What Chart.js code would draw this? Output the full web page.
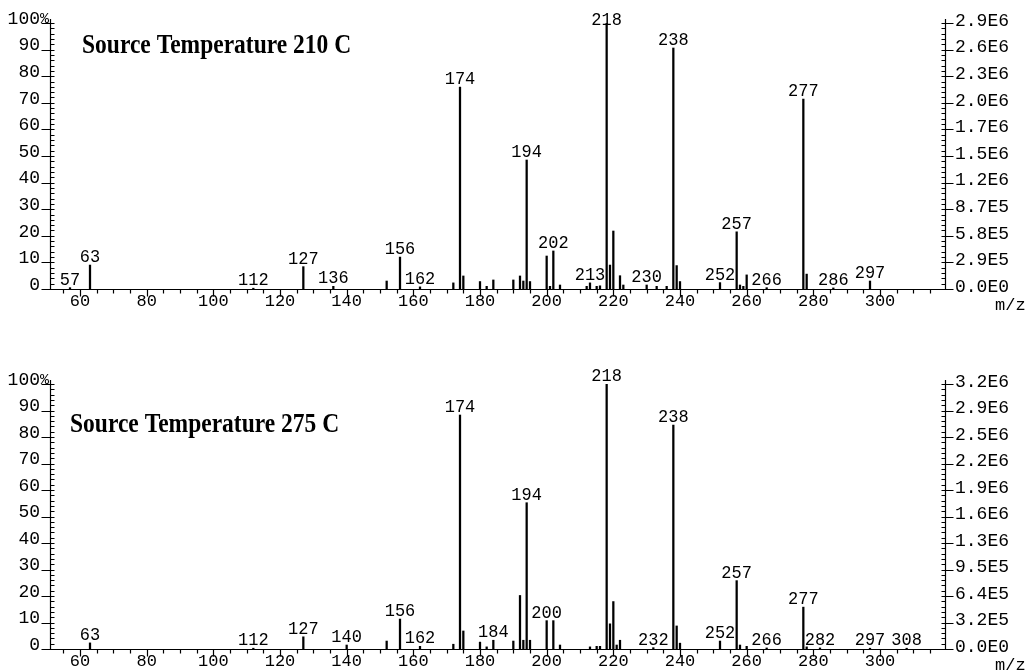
<!DOCTYPE html>
<html>
<head>
<meta charset="utf-8">
<script src="https://cdn.jsdelivr.net/npm/chart.js@4.4.1/dist/chart.umd.min.js"></script>
<style>
  html, body { margin: 0; padding: 0; background: #fff; }
  .box { position: absolute; left: 0; width: 1029px; height: 336px; }
  #topBox { top: 0; }
  #botBox { top: 336px; }
</style>
</head>
<body>
<div class="box" id="topBox"><canvas id="topChart"></canvas></div>
<div class="box" id="botBox"><canvas id="botChart"></canvas></div>
<script>

// 210 C spectrum (relative intensity, %)
const topMz  = [57, 63, 112, 127, 136, 152, 156, 162, 172, 174, 175, 180, 182, 184, 190, 192, 193, 194, 195,
                200, 201, 202, 204, 212, 213, 215, 216, 218, 219, 220, 222, 223, 230, 233, 236, 238, 239, 240,
                252, 257, 258, 259, 260, 266, 277, 278, 286, 297]
const topPct = [0.5, 9.0, 0.3, 8.4, 1.0, 3.0, 12.0, 0.8, 2.3, 75.9, 4.9, 2.8, 1.0, 3.4, 3.4, 4.9, 3.0, 48.5, 2.8,
                12.4, 1.0, 14.3, 1.5, 1.0, 2.3, 1.0, 1.2, 100, 9.0, 21.8, 5.0, 1.5, 1.5, 1.0, 1.0, 90.6, 8.8, 2.8,
                2.4, 21.5, 1.5, 1.0, 5.3, 0.5, 71.4, 5.6, 0.4, 3.0]
const topPeakLabels = [57, 63, 112, 127, 136, 156, 162, 174, 194, 202, 213, 218, 230, 238, 252, 257, 266, 277, 286, 297]
const topRightTicks = ['0.0E0', '2.9E5', '5.8E5', '8.7E5', '1.2E6', '1.5E6', '1.7E6', '2.0E6', '2.3E6', '2.6E6', '2.9E6']

// 275 C spectrum
const botMz  = [63, 112, 127, 140, 152, 156, 162, 172, 174, 175, 180, 182, 184, 190, 192, 193, 194, 195,
                200, 202, 204, 213, 215, 216, 218, 219, 220, 221, 222, 232, 238, 239, 240,
                252, 257, 258, 260, 266, 277, 278, 282, 297, 308]
const botPct = [2.3, 0.3, 4.6, 1.5, 3.0, 11.3, 1.0, 1.8, 88.3, 6.8, 2.6, 0.8, 3.3, 3.0, 20.2, 3.3, 55.2, 3.3,
                10.7, 10.7, 1.5, 0.8, 1.0, 1.0, 100, 9.5, 17.9, 1.5, 3.3, 0.5, 84.5, 8.7, 2.2,
                3.0, 25.8, 1.5, 1.0, 0.4, 15.8, 0.8, 0.4, 0.3, 0.3]
const botPeakLabels = [63, 112, 127, 140, 156, 162, 174, 184, 194, 200, 218, 232, 238, 252, 257, 266, 277, 282, 297, 308]
const botRightTicks = ['0.0E0', '3.2E5', '6.4E5', '9.5E5', '1.3E6', '1.6E6', '1.9E6', '2.2E6', '2.5E6', '2.9E6', '3.2E6']

const pctTicks = ['0', '10', '20', '30', '40', '50', '60', '70', '80', '90', '100']
const mzTicks = [60, 80, 100, 120, 140, 160, 180, 200, 220, 240, 260, 280, 300]

const mono = 'Liberation Mono'

// text a bit taller than the font, like the scanned original
function tallText(ctx, txt, x, y, sy) {
  ctx.save()
  ctx.translate(x, y)
  ctx.scale(1, sy)
  ctx.fillText(txt, 0, 0)
  ctx.restore()
}

const specPlugin = {
  id: 'spec',
  afterDraw(chart) {
    const { ctx, chartArea: a, scales: { x, y } } = chart
    const o = chart.options.plugins.spec
    ctx.save()
    ctx.strokeStyle = '#000'
    ctx.lineWidth = 1.2
    ctx.beginPath()
    const L = Math.round(a.left) + 0.5, R = Math.round(a.right) + 0.5, B = Math.round(a.bottom) + 0.5
    ctx.moveTo(L, a.top - 4); ctx.lineTo(L, B)
    ctx.moveTo(R, a.top - 4); ctx.lineTo(R, B)
    ctx.moveTo(L, B); ctx.lineTo(R, B)
    for (let p = 0; p <= 100; p += 2) {
      const py = Math.round(y.getPixelForValue(p)) + 0.5
      if (p % 10 === 0) {
        ctx.moveTo(L - 9, py); ctx.lineTo(L, py)
        ctx.moveTo(R, py); ctx.lineTo(R + 8, py)
      }
      ctx.moveTo(L, py); ctx.lineTo(L + 4, py)
      ctx.moveTo(R - 4, py); ctx.lineTo(R, py)
    }
    for (let m = 55; m < 320; m += 5) {
      const px = Math.round(x.getPixelForValue(m)) + 0.5
      ctx.moveTo(px, B); ctx.lineTo(px, B + (m % 20 === 0 ? 7 : 4))
    }
    ctx.stroke()

    // peak labels
    const ds = chart.data.datasets[0].data
    ctx.fillStyle = '#000'
    ctx.font = '17px "' + mono + '"'
    ctx.textAlign = 'center'
    ctx.textBaseline = 'alphabetic'
    o.peaks.forEach(m => {
      const pt = ds.find(d => d.x === m)
      const top = y.getPixelForValue(pt.y)
      tallText(ctx, String(m), x.getPixelForValue(m), Math.max(top - 3, 25), 1.12)
    })

    // percent sign on 100
    ctx.font = '15px "' + mono + '"'
    ctx.textAlign = 'left'
    ctx.textBaseline = 'middle'
    ctx.fillText('%', a.left - 10, y.getPixelForValue(100) - 4)

    // m/z
    ctx.font = '17px "' + mono + '"'
    ctx.textBaseline = 'alphabetic'
    ctx.fillText('m/z', 995, a.bottom + 21)

    // title
    ctx.font = 'bold 23.5px "Liberation Serif"'
    tallText(ctx, o.title, o.titleX, o.titleY, 1.15)
    ctx.restore()
  }
}

function drawSpectrum(id, mz, pct, peaks, rightTicks, title, top, bottom, titleX, titleY) {
  const tickFont = { family: mono, size: 18 }
  return new Chart(document.getElementById(id), {
    type: 'bar',
    data: {
      datasets: [{
        data: mz.map((m, i) => ({ x: m, y: pct[i] })),
        backgroundColor: '#000',
        borderWidth: 0,
        barThickness: 1.6
      }]
    },
    options: {
      responsive: true,
      maintainAspectRatio: false,
      animation: false,
      layout: { padding: { top: top, left: 0, right: 0, bottom: 0 } },
      plugins: {
        legend: { display: false },
        tooltip: { enabled: false },
        spec: { peaks: peaks, title: title, titleX: titleX, titleY: titleY }
      },
      scales: {
        x: {
          type: 'linear',
          min: 51,
          max: 319.5,
          offset: false,
          grid: { display: false, drawTicks: false },
          border: { display: false },
          afterBuildTicks: s => { s.ticks = mzTicks.map(v => ({ value: v })) },
          afterFit: s => { s.height = 336 - bottom },
          ticks: {
            autoSkip: false,
            maxRotation: 0,
            padding: 2,
            color: '#000',
            font: { family: mono, size: 17 },
            callback: v => String(v)
          }
        },
        y: {
          position: 'left',
          min: 0,
          max: 100,
          grid: { display: false, drawTicks: false },
          border: { display: false },
          afterBuildTicks: s => { s.ticks = pctTicks.map((t, i) => ({ value: i * 10 })) },
          afterFit: s => { s.width = 50 },
          ticks: {
            padding: 10,
            labelOffset: -4,
            color: '#000',
            font: tickFont,
            callback: (v, i) => pctTicks[i]
          }
        },
        y2: {
          position: 'right',
          min: 0,
          max: 100,
          grid: { display: false, drawTicks: false },
          border: { display: false },
          afterBuildTicks: s => { s.ticks = rightTicks.map((t, i) => ({ value: i * 10 })) },
          afterFit: s => { s.width = 84 },
          ticks: {
            padding: 10,
            labelOffset: -2,
            color: '#000',
            font: tickFont,
            callback: (v, i) => rightTicks[i]
          }
        }
      }
    },
    plugins: [specPlugin]
  })
}

drawSpectrum('topChart', topMz, topPct, topPeakLabels, topRightTicks, 'Source Temperature 210 C', 23, 289, 82, 53)
drawSpectrum('botChart', botMz, botPct, botPeakLabels, botRightTicks, 'Source Temperature 275 C', 48, 313, 70, 96)

</script>
</body>
</html>
